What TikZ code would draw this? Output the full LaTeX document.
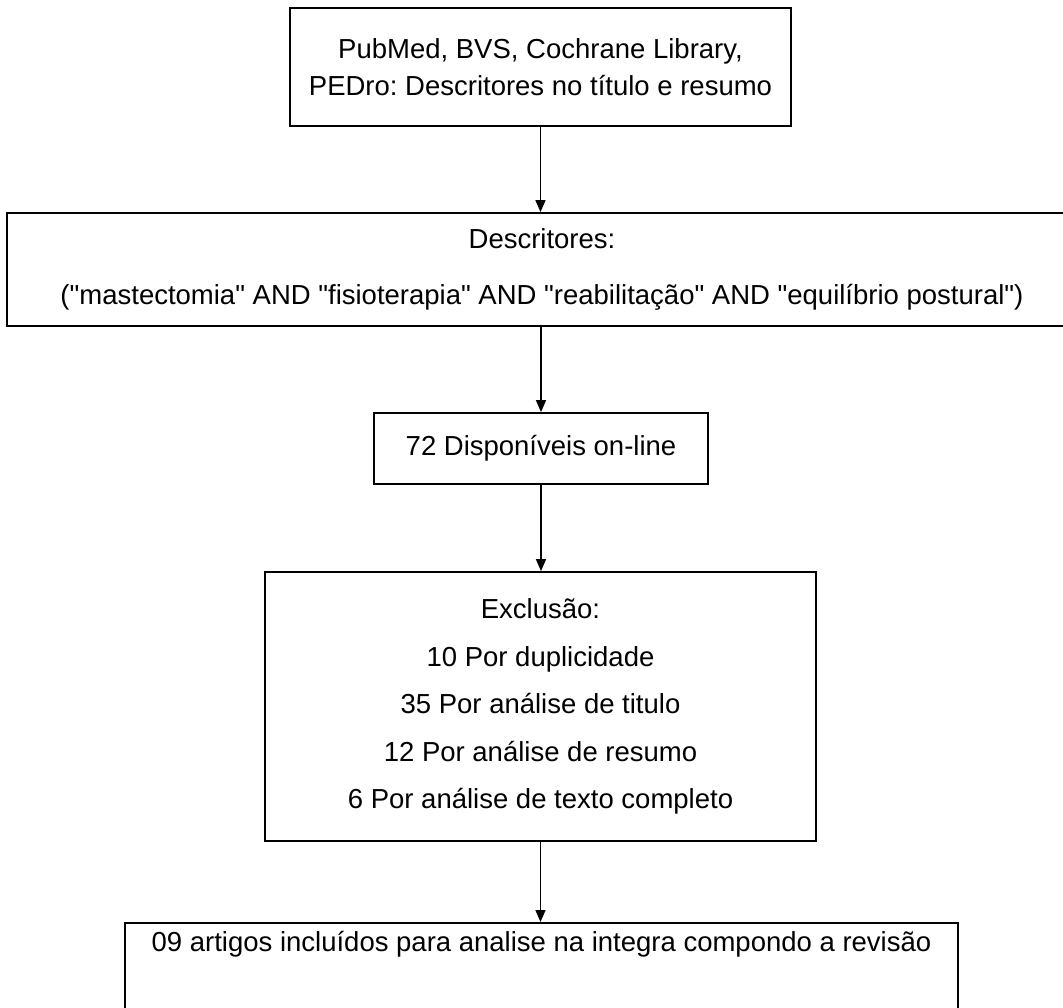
\documentclass[tikz,border=0pt]{standalone}
\usepackage{fontspec}
\setmainfont{Liberation Sans}[Ligatures=TeXOff]
\usetikzlibrary{arrows.meta}
\frenchspacing
\begin{document}
\begin{tikzpicture}[x=1pt,y=-1pt,
  box/.style={draw=black, line width=1.8pt, align=center, inner sep=0pt, fill=white},
  conn/.style={line width=1.5pt, -{Triangle[width=10pt,length=12pt]}}]
\useasboundingbox (0,0) rectangle (1063,1008);
\node[box, minimum width=501pt, minimum height=118pt, font=\fontsize{27.5}{37}\selectfont] (b1) at (540.5,67)
  {PubMed, BVS, Cochrane Library,\\PEDro: Descritores no título e resumo};
\node[box, minimum width=1070pt, minimum height=113pt, font=\fontsize{27.5}{56}\selectfont] (b2) at (542,269.5)
  {Descritores:\\("mastectomia" AND "fisioterapia" AND "reabilitação" AND "equilíbrio postural")};
\node[box, minimum width=334pt, minimum height=71pt, font=\fontsize{27.5}{33}\selectfont] (b3) at (541,448.5)
  {72 Disponíveis on-line};
\node[box, minimum width=551pt, minimum height=269pt, font=\fontsize{27.5}{47.5}\selectfont] (b4) at (540.5,706.5)
  {Exclusão:\\10 Por duplicidade\\35 Por análise de titulo\\12 Por análise de resumo\\6 Por análise de texto completo};
\node[box, anchor=north, minimum width=833pt, text height=29pt, text depth=80pt, font=\fontsize{27.5}{33}\selectfont] (b5) at (541.5,922)
  {09 artigos incluídos para analise na integra compondo a revisão};
\draw[conn] (b1.south) -- (b1.south |- b2.north);
\draw[conn] (b2.south -| b3.north) -- (b3.north);
\draw[conn] (b3.south) -- (b3.south |- b4.north);
\draw[conn] (b4.south) -- (b4.south |- b5.north);
\end{tikzpicture}
\end{document}
